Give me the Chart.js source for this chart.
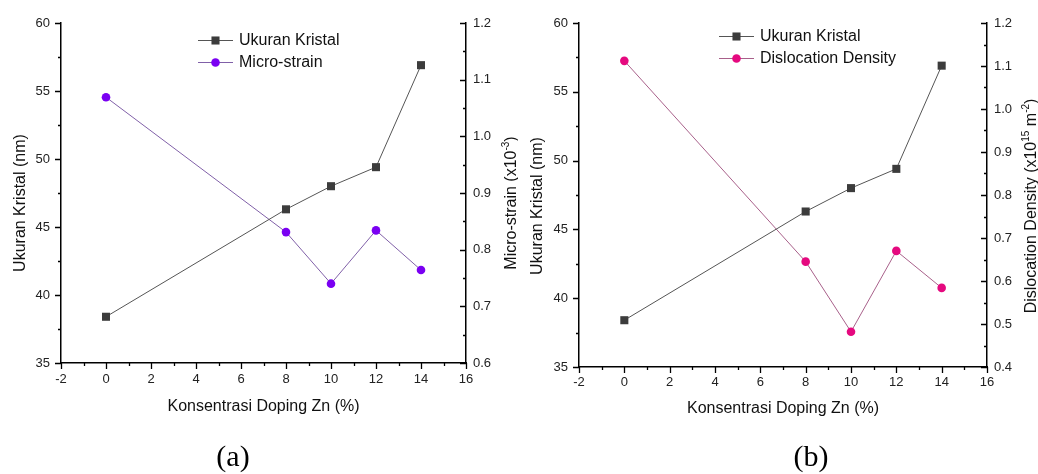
<!DOCTYPE html>
<html>
<head>
<meta charset="utf-8">
<script src="https://cdn.jsdelivr.net/npm/chart.js@4/dist/chart.umd.min.js"></script>
<style>
  html, body { margin: 0; padding: 0; background: #fff; }
  #wrap { position: relative; width: 1038px; height: 474px; overflow: hidden; }
  canvas { position: absolute; top: 0; }
  #chartA { left: 0; }
  #chartB { left: 518px; }
  .cap {
    position: absolute; top: 441px; width: 100px; text-align: center;
    font-family: 'Liberation Serif', 'Times New Roman', serif;
    font-size: 30px; line-height: 30px; color: #000;
  }
</style>
</head>
<body>
<div id="wrap">
  <canvas id="chartA" width="518" height="474"></canvas>
  <canvas id="chartB" width="520" height="474"></canvas>
  <div class="cap" style="left:183px">(a)</div>
  <div class="cap" style="left:761px">(b)</div>
</div>
<script>
// data
const dopingZn = [0, 8, 10, 12, 14];
const ukuranKristal = [38.4, 46.3, 48.0, 49.4, 56.9];
const microStrain = [1.069, 0.831, 0.740, 0.834, 0.764];
const dislocationDensity = [1.112, 0.645, 0.482, 0.670, 0.584];

// axis ranges
const xRange = [-2, 16, 2];
const kristalRange = [35, 60, 5];
const strainRange = [0.6, 1.2, 0.1];
const densityRange = [0.4, 1.2, 0.1];

const FONT = '"Liberation Sans", Arial, sans-serif';
Chart.defaults.font.family = FONT;
Chart.defaults.font.size = 13;
Chart.defaults.color = '#222';

function toPoints(ys) {
    return dopingZn.map((x, i) => ({ x: x, y: ys[i] }));
}

// draws a marker like chart.js does for 'rect' / 'circle'
function marker(ctx, style, r, x, y, color) {
    ctx.fillStyle = color;
    ctx.beginPath();
    if (style === 'rect') {
        const s = Math.SQRT1_2 * r;
        ctx.rect(x - s, y - s, 2 * s, 2 * s);
    } else {
        ctx.arc(x, y, r, 0, Math.PI * 2);
    }
    ctx.fill();
}

// rotated (bottom to top) axis title, parts may be superscript
function rotatedTitle(ctx, parts, cx, cy, size) {
    const base = size + 'px ' + FONT;
    const small = Math.round(size * 0.62) + 'px ' + FONT;
    ctx.save();
    ctx.translate(cx, cy);
    ctx.rotate(-Math.PI / 2);
    let total = 0;
    parts.forEach(p => { ctx.font = p.sup ? small : base; total += ctx.measureText(p.text).width; });
    let pos = -total / 2;
    ctx.textAlign = 'left';
    ctx.textBaseline = 'alphabetic';
    ctx.fillStyle = '#111';
    parts.forEach(p => {
        ctx.font = p.sup ? small : base;
        ctx.fillText(p.text, pos, p.sup ? size * 0.36 - size * 0.45 : size * 0.36);
        pos += ctx.measureText(p.text).width;
    });
    ctx.restore();
}

// Origin-like axes: minor ticks, inward right ticks, legend, y titles
const originAxes = {
    id: 'originAxes',
    afterDraw(chart, args, opts) {
        const ctx = chart.ctx;
        const area = chart.chartArea;
        ctx.save();
        ctx.strokeStyle = '#000';
        ctx.lineWidth = 1.3;
        ctx.beginPath();
        ['x', 'y', 'y1'].forEach(id => {
            const s = chart.scales[id];
            const step = s.options.ticks.stepSize / 2;
            const n = Math.round((s.max - s.min) / step);
            for (let i = 0; i <= n; i++) {
                const v = s.min + i * step;
                const len = i % 2 === 0 ? 6 : 3;
                const p = Math.round(s.getPixelForValue(v)) + 0.5;
                if (id === 'x') {
                    ctx.moveTo(p, area.bottom);
                    ctx.lineTo(p, area.bottom + len);
                } else if (id === 'y') {
                    ctx.moveTo(area.left - len, p);
                    ctx.lineTo(area.left, p);
                } else {
                    ctx.moveTo(area.right - len, p);
                    ctx.lineTo(area.right, p);
                }
            }
        });
        ctx.stroke();

        // legend
        chart.data.datasets.forEach((ds, i) => {
            const y = opts.legendY + i * 22;
            const x0 = opts.legendX;
            ctx.strokeStyle = ds.borderColor;
            ctx.lineWidth = 1;
            ctx.beginPath();
            ctx.moveTo(x0, y + 0.5);
            ctx.lineTo(x0 + 35, y + 0.5);
            ctx.stroke();
            marker(ctx, ds.pointStyle, ds.pointRadius, x0 + 17.5, y + 0.5, ds.pointBackgroundColor);
            ctx.fillStyle = '#111';
            ctx.font = '16px ' + FONT;
            ctx.textBaseline = 'middle';
            ctx.textAlign = 'left';
            ctx.fillText(ds.label, x0 + 41, y + 1);
        });
        ctx.restore();

        rotatedTitle(ctx, opts.leftTitle, opts.leftTitleX, opts.titleY, 16);
        rotatedTitle(ctx, opts.rightTitle, opts.rightTitleX, opts.titleY, 16);
    }
};

function makeChart(canvasId, cfg) {
    const axisBorder = { color: '#000', width: 1.5 };
    return new Chart(document.getElementById(canvasId), {
        type: 'line',
        plugins: [originAxes],
        data: {
            datasets: [
                {
                    label: 'Ukuran Kristal',
                    data: toPoints(ukuranKristal),
                    yAxisID: 'y',
                    borderColor: '#555',
                    borderWidth: 1,
                    pointStyle: 'rect',
                    pointRadius: 5.7,
                    pointBackgroundColor: '#3c3c3c',
                    pointBorderWidth: 0
                },
                {
                    label: cfg.label,
                    data: toPoints(cfg.values),
                    yAxisID: 'y1',
                    borderColor: cfg.lineColor,
                    borderWidth: 1,
                    pointStyle: 'circle',
                    pointRadius: 4.3,
                    pointBackgroundColor: cfg.color,
                    pointBorderWidth: 0
                }
            ]
        },
        options: {
            responsive: false,
            animation: false,
            layout: { padding: { top: cfg.top, left: 0, right: 0, bottom: 0 } },
            plugins: {
                legend: { display: false },
                tooltip: { enabled: false },
                originAxes: {
                    legendX: cfg.legendX, legendY: cfg.legendY,
                    leftTitle: [{ text: 'Ukuran Kristal (nm)' }],
                    rightTitle: cfg.rightTitle,
                    leftTitleX: cfg.leftTitleX, rightTitleX: cfg.rightTitleX, titleY: cfg.titleY
                }
            },
            scales: {
                x: {
                    type: 'linear', min: xRange[0], max: xRange[1],
                    ticks: { stepSize: xRange[2], padding: cfg.xPad, autoSkip: false, maxRotation: 0 },
                    grid: { display: false, drawTicks: false },
                    border: axisBorder,
                    title: {
                        display: true, text: 'Konsentrasi Doping Zn (%)', color: '#111',
                        font: { size: 16 }, padding: { top: 0, bottom: cfg.xTitlePad }
                    },
                    afterFit: s => { s.height = cfg.xHeight; }
                },
                y: {
                    position: 'left', min: kristalRange[0], max: kristalRange[1],
                    ticks: { stepSize: kristalRange[2], padding: 11 },
                    grid: { display: false, drawTicks: false },
                    border: axisBorder,
                    afterFit: s => { s.width = 61; }
                },
                y1: {
                    position: 'right', min: cfg.range[0], max: cfg.range[1],
                    ticks: { stepSize: cfg.range[2], padding: 7, callback: v => v.toFixed(1) },
                    grid: { display: false, drawTicks: false },
                    border: axisBorder,
                    afterFit: s => { s.width = cfg.rightWidth; }
                }
            }
        }
    });
}

makeChart('chartA', {
    label: 'Micro-strain', values: microStrain, range: strainRange,
    color: '#7a00f2', lineColor: '#8060a8',
    top: 23, xHeight: 111, xPad: 9, xTitlePad: 58, rightWidth: 52,
    legendX: 198, legendY: 40,
    rightTitle: [{ text: 'Micro-strain (x10' }, { text: '-3', sup: true }, { text: ')' }],
    leftTitleX: 19, rightTitleX: 510, titleY: 203
});

makeChart('chartB', {
    label: 'Dislocation Density', values: dislocationDensity, range: densityRange,
    color: '#e5097f', lineColor: '#a8608a',
    top: 23, xHeight: 107, xPad: 8, xTitlePad: 56, rightWidth: 51,
    legendX: 201, legendY: 36,
    rightTitle: [{ text: 'Dislocation Density (x10' }, { text: '15', sup: true }, { text: ' m' }, { text: '-2', sup: true }, { text: ')' }],
    leftTitleX: 18, rightTitleX: 512, titleY: 206
});
</script>
</body>
</html>
